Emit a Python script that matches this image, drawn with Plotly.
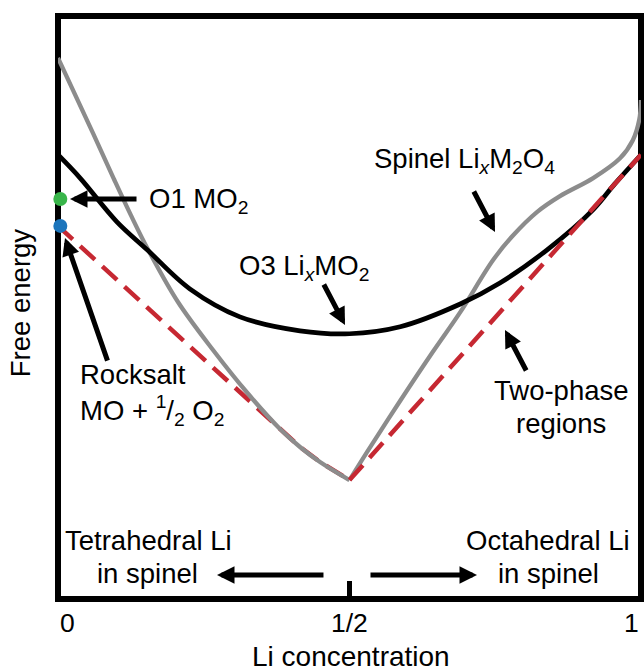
import plotly.graph_objects as go

FONT = "Liberation Sans, Arial, Helvetica, sans-serif"

# ---- data (Li concentration x, schematic free energy y in arbitrary units) ----
o3_x = [0.0, 0.038, 0.101, 0.153, 0.226, 0.312, 0.415, 0.5, 0.587, 0.690, 0.758, 0.839, 0.918, 0.955, 1.0]
o3_y = [0.762, 0.722, 0.647, 0.599, 0.532, 0.484, 0.460, 0.455, 0.467, 0.506, 0.542, 0.599, 0.668, 0.712, 0.762]

spinel_left_x = [0.0, 0.060, 0.0961, 0.1252, 0.1544, 0.2058, 0.2659, 0.3242, 0.3808, 0.4151, 0.4494, 0.5]
spinel_left_y = [0.928, 0.799, 0.720, 0.658, 0.5995, 0.5094, 0.4271, 0.3542, 0.2916, 0.2607, 0.235, 0.204]

spinel_right_x = [0.5, 0.530, 0.587, 0.643, 0.690, 0.746, 0.780, 0.822, 0.861, 0.918, 0.964, 0.986, 0.997, 1.0]
spinel_right_y = [0.204, 0.252, 0.340, 0.424, 0.492, 0.581, 0.623, 0.664, 0.691, 0.722, 0.756, 0.787, 0.822, 0.856]

hull_left_x = [0.0, 0.389, 0.4151, 0.4494, 0.5]
hull_left_y = [0.640, 0.283, 0.2607, 0.235, 0.204]
hull_right_x = [0.5, 1.0]
hull_right_y = [0.204, 0.762]

end_x = [0.004, 0.004]
end_y = [0.686, 0.640]
end_colors = ["#39b54a", "#1c75bc"]

tick_vals = [0, 0.5, 1]
tick_text = ["0", "1/2", "1"]

RED = "#c62832"
GRAY = "#8c8c8c"

fig = go.Figure()
fig.add_trace(go.Scatter(x=hull_left_x, y=hull_left_y, mode="lines",
                         line=dict(color=RED, width=4.5, dash="20px,10px")))
fig.add_trace(go.Scatter(x=spinel_left_x, y=spinel_left_y, mode="lines",
                         line=dict(color=GRAY, width=4.3, shape="spline")))
fig.add_trace(go.Scatter(x=spinel_right_x, y=spinel_right_y, mode="lines",
                         line=dict(color=GRAY, width=4.3, shape="spline")))
fig.add_trace(go.Scatter(x=o3_x, y=o3_y, mode="lines",
                         line=dict(color="black", width=4.7, shape="spline")))
fig.add_trace(go.Scatter(x=hull_right_x, y=hull_right_y, mode="lines",
                         line=dict(color=RED, width=4.5, dash="20px,10px")))
fig.add_trace(go.Scatter(x=end_x, y=end_y, mode="markers", cliponaxis=False,
                         marker=dict(size=14, color=end_colors, line=dict(width=0))))

FS = 27.5
annotations = []
txt = dict(showarrow=False, font=dict(family=FONT, size=FS, color="black"), xref="x", yref="y",
           yanchor="middle")
# (text, x, y, xanchor)
labels = [
    ("O1 MO<sub>2</sub>", 0.1527, 0.6827, "left"),
    ("Rocksalt<br>MO + <sup>1</sup>/<sub>2</sub> O<sub>2</sub>", 0.0343, 0.3516, "left"),
    ("O3 Li<sub><i>x</i></sub>MO<sub>2</sub>", 0.307, 0.568, "left"),
    ("Spinel Li<sub><i>x</i></sub>M<sub>2</sub>O<sub>4</sub>", 0.5386, 0.753, "left"),
    ("Two-phase", 0.863, 0.3568, "center"),
    ("regions", 0.863, 0.3002, "center"),
    ("Tetrahedral Li", 0.156, 0.0995, "center"),
    ("in spinel", 0.153, 0.0429, "center"),
    ("Octahedral Li", 0.8405, 0.0995, "center"),
    ("in spinel", 0.8405, 0.0429, "center"),
]
for t, x, y, xa in labels:
    annotations.append(dict(text=t, x=x, y=y, xanchor=xa, align="left", **txt))

arr = dict(text="", showarrow=True, arrowhead=2, arrowsize=0.7, arrowwidth=5, arrowcolor="black",
           standoff=0, xref="x", yref="y")
for hx, hy, ax, ay in [(0.0206, 0.686, 68, 0), (0.012, 0.619, 43, 124), (0.4923, 0.470, -22, -42),
                       (0.7496, 0.6295, -22, -42), (0.7667, 0.4614, 22, 42),
                       (0.2727, 0.0412, 108, 0), (0.7187, 0.0412, -108, 0)]:
    annotations.append(dict(x=hx, y=hy, ax=ax, ay=ay, **arr))

# tick labels
for v, t, anc in zip(tick_vals, tick_text, ["left", "center", "right"]):
    annotations.append(dict(text=t, x=v, y=-0.042, xref="x", yref="paper", xanchor=anc, yanchor="middle",
                            showarrow=False, font=dict(family=FONT, size=26.5, color="black")))
# axis titles
annotations.append(dict(text="Li concentration", x=0.503, y=-0.0986, xref="x", yref="paper",
                        xanchor="center", yanchor="middle", showarrow=False,
                        font=dict(family=FONT, size=28, color="black")))
annotations.append(dict(text="Free energy", x=-0.064, y=0.5086, xref="paper", yref="paper", textangle=-90,
                        xanchor="center", yanchor="middle", showarrow=False,
                        font=dict(family=FONT, size=27.5, color="black")))

fig.update_layout(
    width=644, height=671,
    margin=dict(l=58, r=3, t=16, b=72, autoexpand=False),
    paper_bgcolor="white", plot_bgcolor="white",
    showlegend=False,
    annotations=annotations,
    shapes=[dict(type="rect", xref="paper", yref="paper", x0=0, x1=1, y0=0, y1=1,
                 line=dict(color="black", width=6), layer="below")],
    xaxis=dict(range=[0, 1], showgrid=False, zeroline=False, showline=False,
               tickvals=[0.5], ticks="inside", ticklen=18, tickwidth=5, tickcolor="black",
               showticklabels=False, fixedrange=True),
    yaxis=dict(range=[0, 1], showgrid=False, zeroline=False, showline=False,
               showticklabels=False, ticks="", fixedrange=True),
)

fig.write_html("out.html")
